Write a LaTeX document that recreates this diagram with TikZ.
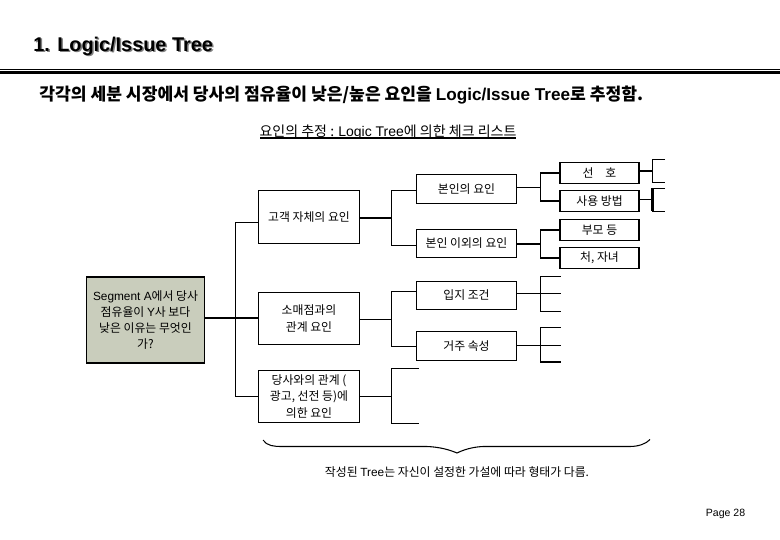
\documentclass[tikz,border=0pt]{standalone}
\usepackage{xcolor}
\usepackage{fontspec}
\setmainfont{Noto Sans CJK KR}
\newfontfamily\arial{Liberation Sans}
\usepackage{tikz}

\definecolor{rootgray}{HTML}{C9CDBC}

\tikzset{
  treebox/.style={draw,line width=0.6pt,inner sep=0pt,outer sep=0pt,align=center,font=\fontsize{6.75}{9.2}\selectfont,execute at begin node={\vspace*{1.2pt}}},
  firstbox/.style={treebox,minimum width=2.02cm,minimum height=1.05cm},
  secondbox/.style={treebox,minimum width=2.01cm,minimum height=0.57cm},
  thirdbox/.style={treebox,minimum width=1.58cm,minimum height=0.43cm},
  titletext/.style={anchor=base west,inner sep=0pt,font=\arial\bfseries\fontsize{11.3}{13}\selectfont},
  branch/.style={line width=0.6pt}
}

\begin{document}
\begin{tikzpicture}[x=0.02cm,y=-0.02cm]
\useasboundingbox (0,0) rectangle (780,540);

\node (titleshadow) at (34.5,53)[titletext,gray]{1. Logic/Issue Tree};
\node (title) at (33,52)[titletext]{1. Logic/Issue Tree};

\draw[line width=0.6pt] (0,69.5) -- (780,69.5);
\draw[line width=1.7pt] (0,72.5) -- (780,72.5);

\node (subtitle) at (39,100.5)[anchor=base west,inner sep=0pt,font=\bfseries\fontsize{9.75}{12}\selectfont]{각각의 세분 시장에서 당사의 점유율이 낮은/높은 요인을 {\arial Logic/Issue Tree}로 추정함.};

\node (listtitle) at (388,136.5)[anchor=base,inner sep=0pt,font=\fontsize{7.97}{10}\selectfont]{요인의 추정 : {\arial Logic Tree}에 의한 체크 리스트};
\coordinate (listleft) at (260,138);
\coordinate (listright) at (516,138);
\draw[line width=0.6pt] (listleft) -- (listright);

% root and first level
\node (root) at (145.5,320)[treebox,fill=rootgray,minimum width=2.35cm,minimum height=1.72cm]{{\arial Segment A}에서 당사\\점유율이 {\arial Y}사 보다\\낮은 이유는 무엇인\\가?};

\node (self) at (309,217)[firstbox]{고객 자체의 요인};
\node (shop) at (309,318.5)[firstbox]{\vspace*{2pt}소매점과의\\관계 요인};
\node (firm) at (309,396.5)[firstbox]{당사와의 관계 (\\광고, 선전 등)에\\의한 요인};

% second level
\node (own) at (466.5,189)[secondbox]{본인의 요인};
\node (other) at (466.5,243.5)[secondbox]{본인 이외의 요인};
\node (place) at (466.5,295.5)[secondbox]{입지 조건};
\node (home) at (466.5,346)[secondbox]{거주 속성};

% third level
\node (pref) at (599.5,173)[thirdbox]{선\quad 호};
\node (usage) at (599.5,201)[thirdbox]{사용 방법};
\node (parent) at (599.5,230)[thirdbox]{부모 등};
\node (family) at (599.5,258)[thirdbox]{처, 자녀};

% trunk from the root
\coordinate (trunktop) at (235.5,222.5);
\coordinate (trunkmid) at (235.5,318);
\coordinate (trunkbot) at (235.5,396.5);
\draw[branch] (trunktop -| self.west) -- (trunktop) -- (trunkbot) -- (firm.west);
\draw[branch] (root.east |- trunkmid) -- (shop.west |- trunkmid);

% first level to second level
\coordinate (selfjoin) at (391.5,218);
\draw[branch] (self.east |- selfjoin) -- (selfjoin);
\draw[branch] (own.west |- 0,190.5) -| (selfjoin) |- (other.west |- 0,245.5);

\coordinate (shopjoin) at (391.5,319.5);
\draw[branch] (shop.east |- shopjoin) -- (shopjoin);
\draw[branch] (place.west |- 0,291.5) -| (shopjoin) |- (home.west |- 0,346.5);

\coordinate (firmjoin) at (391.5,396.5);
\coordinate (firmup) at (418.5,368.5);
\coordinate (firmdown) at (418.5,423.5);
\draw[branch] (firm.east) -- (firmjoin);
\draw[branch] (firmup) -| (firmjoin) |- (firmdown);

% second level to third level
\coordinate (ownjoin) at (540.5,187.5);
\draw[branch] (own.east |- ownjoin) -- (ownjoin);
\draw[branch] (pref.west) -| (ownjoin) |- (usage.west);

\coordinate (otherjoin) at (540.5,244);
\draw[branch] (other.east |- otherjoin) -- (otherjoin);
\draw[branch] (parent.west) -| (otherjoin) |- (family.west);

\coordinate (placejoin) at (540.5,293.5);
\coordinate (placeup) at (560.5,276.5);
\coordinate (placemid) at (560.5,293.5);
\coordinate (placedown) at (560.5,311.5);
\draw[branch] (place.east |- placejoin) -- (placemid);
\draw[branch] (placeup) -| (placejoin) |- (placedown);

\coordinate (homejoin) at (540.5,345.5);
\coordinate (homeup) at (560.5,327.5);
\coordinate (homemid) at (560.5,345.5);
\coordinate (homedown) at (560.5,362);
\draw[branch] (home.east |- homejoin) -- (homemid);
\draw[branch] (homeup) -| (homejoin) |- (homedown);

% third level to the open ends
\coordinate (prefjoin) at (652.5,171);
\coordinate (prefup) at (665,159.5);
\coordinate (prefdown) at (665,182.5);
\draw[branch] (pref.east |- prefjoin) -- (prefjoin);
\draw[branch] (prefup) -| (prefjoin) |- (prefdown);

\coordinate (usagejoin) at (652.5,199.5);
\coordinate (usageup) at (665,188.5);
\coordinate (usagedown) at (665,211.5);
\draw[branch] (usage.east |- usagejoin) -- (usagejoin);
\draw[line width=1.2pt] (usagejoin |- usageup) -- (usagejoin |- usagedown);
\draw[branch] (usageup) -| (usagejoin) |- (usagedown);

% brace under the tree
\draw[line width=0.6pt] (263,440) .. controls (267,446) and (274,446.5) .. (282,446.5) -- (427,446.5) .. controls (440,447) and (450,450) .. (457,453) .. controls (463,450) and (472,447) .. (483,446.5) -- (630,446.5) .. controls (638,446.5) and (646,444) .. (650,439.5);

\node (note) at (457,476)[anchor=base,inner sep=0pt,font=\fontsize{6.75}{9}\selectfont]{작성된 {\arial Tree}는 자신이 설정한 가설에 따라 형태가 다름.};

\node (page) at (725.5,516)[anchor=base,inner sep=0pt,font=\arial\fontsize{6}{8}\selectfont]{Page 28};

\end{tikzpicture}
\end{document}
